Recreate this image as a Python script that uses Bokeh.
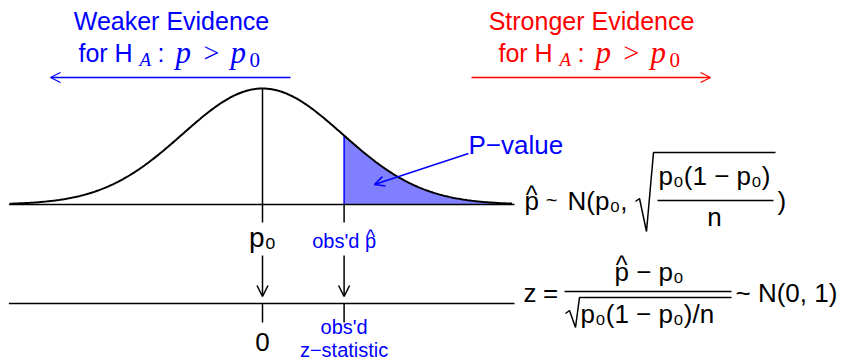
import numpy as np
from bokeh.plotting import figure
from bokeh.models import Range1d, Label, Arrow, OpenHead
from bokeh.embed import file_html
from bokeh.resources import INLINE

# ---------------- data ----------------
z_null = 0.0                 # position of p0 (and 0 on the z line)
z_obs = 1.02                 # observed statistic
z_span = [-3.16, 3.12]       # drawn extent of the sampling distribution
line_span = [-3.17, 3.15]    # extent of the two horizontal lines
weak_title = "Weaker Evidence"
strong_title = "Stronger Evidence"
pvalue_text = "P\u2212value"
obs_label = "obs'd"
zstat_label = "z\u2212statistic"

# ---------------- geometry helpers (page px -> data) ----------------
W, H = 851, 362
PXX = 80.0
PXY = 116.0 * np.sqrt(2 * np.pi)
TEXT_DY = 9   # label baseline correction


def X(px):
    return (px - 262) / PXX


def Y(py):
    return (204 - py) / PXY


def pdf(z):
    z = np.asarray(z, dtype=float)
    return np.exp(-z ** 2 / 2) / np.sqrt(2 * np.pi)


p = figure(width=W, height=H, x_range=Range1d(X(0), X(W)),
           y_range=Range1d(Y(H), Y(0)), output_backend="svg",
           toolbar_location=None, x_axis_type=None, y_axis_type=None,
           min_border=0)
p.outline_line_color = None
p.background_fill_color = "white"

SANS = "Liberation Sans"
SERIF = "Liberation Serif"
BLUE = "#0000ff"
RED = "#ff0000"


def lab(px, py, text, size=24, color="black", font=SANS, style="normal",
        align="left", xdata=None):
    x = X(px) if xdata is None else xdata
    p.add_layout(Label(x=x, y=Y(py - TEXT_DY), text=text,
                       text_font_size=f"{size}px",
                       text_color=color, text_font=font, text_font_style=style,
                       text_align=align, text_baseline="alphabetic"))


# ---------------- shaded tail ----------------
zs = np.linspace(z_obs, z_span[1], 200)
p.patch(np.concatenate([[z_obs], zs, [z_span[1]]]),
        np.concatenate([[0], pdf(zs), [0]]),
        fill_color=BLUE, fill_alpha=0.5, line_color=None)
p.segment(x0=[z_obs], y0=[0], x1=[z_obs], y1=[float(pdf(z_obs))],
          line_color=BLUE, line_width=1.5)

# ---------------- curve & lines ----------------
zc = np.linspace(z_span[0], z_span[1], 400)
p.line(zc, pdf(zc), line_color="black", line_width=2)
p.segment(x0=[line_span[0], line_span[0]], y0=[0, Y(303)],
          x1=[line_span[1], line_span[1]], y1=[0, Y(303)],
          line_color="black", line_width=1.6)
# verticals / ticks
p.segment(x0=[z_null, z_obs, z_null, z_obs],
          y0=[float(pdf(z_null)), 0, Y(303), Y(303)],
          x1=[z_null, z_obs, z_null, z_obs],
          y1=[Y(222), Y(222), Y(322), Y(322)],
          line_color="black", line_width=1.5)

# down arrows between the two lines
for zz in (z_null, z_obs):
    p.add_layout(Arrow(x_start=zz, y_start=Y(255), x_end=zz, y_end=Y(296),
                       line_width=1.5, line_color="black",
                       end=OpenHead(size=11, line_width=1.5, line_color="black")))

# ---------------- top annotations ----------------
p.add_layout(Arrow(x_start=X(290), y_start=Y(77), x_end=X(50), y_end=Y(77),
                   line_width=1.3, line_color=BLUE,
                   end=OpenHead(size=10, line_width=1.3, line_color=BLUE)))
p.add_layout(Arrow(x_start=X(471), y_start=Y(77), x_end=X(710), y_end=Y(77),
                   line_width=1.3, line_color=RED,
                   end=OpenHead(size=10, line_width=1.3, line_color=RED)))

for dx, col, title in [(0, BLUE, weak_title), (420, RED, strong_title)]:
    lab(171 + dx, 29, title, 25, col, align="center")
    lab(78 + dx, 61, "for H", 25, col)
    lab(139 + dx, 68, "A", 19, col, font=SERIF, style="italic")
    lab(157 + dx, 61, ":", 25, col)
    lab(175 + dx, 61, "p", 31, col, font=SERIF, style="italic")
    lab(203 + dx, 61, ">", 28, col, font=SERIF)
    lab(230 + dx, 61, "p", 31, col, font=SERIF, style="italic")
    lab(249 + dx, 68, "0", 21, col, font=SERIF)

# P-value pointer
lab(468, 153, pvalue_text, 26, BLUE)
p.add_layout(Arrow(x_start=X(468), y_start=Y(153), x_end=X(374), y_end=Y(184),
                   line_width=1.5, line_color=BLUE,
                   end=OpenHead(size=10, line_width=1.5, line_color=BLUE)))

# ---------------- tick labels ----------------
lab(0, 246, "p\u2080", 28, "black", align="center", xdata=z_null)
lab(0, 249, obs_label + " p", 20, BLUE, align="center", xdata=z_obs)
lab(370, 245, "^", 20, BLUE, align="center")
lab(0, 350, "0", 26, "black", align="center", xdata=z_null)
lab(0, 335, obs_label, 20, BLUE, align="center", xdata=z_obs)
lab(0, 358, zstat_label, 20, BLUE, align="center", xdata=z_obs)

# ---------------- formula 1 ----------------
lab(524, 209, "p", 26)
lab(531, 203, "^", 25, align="center")
lab(551, 208, "~", 20, align="center")
lab(567, 209, "N(p\u2080,", 26)
rad1_x = [635, 639, 646, 653, 775]
rad1_y = [201, 198, 231, 152, 152]
p.line([X(v) for v in rad1_x], [Y(v) for v in rad1_y], line_color="black",
       line_width=1.5)
lab(714, 184, "p\u2080(1 \u2212 p\u2080)", 26, align="center")
p.segment(x0=[X(657)], y0=[Y(200)], x1=[X(773)], y1=[Y(200)],
          line_color="black", line_width=1.5)
lab(714, 225, "n", 26, align="center")
lab(777, 209, ")", 26)

# ---------------- formula 2 ----------------
lab(523, 301, "z", 26)
lab(550, 301, "=", 26, align="center")
p.segment(x0=[X(564)], y0=[Y(291)], x1=[X(731)], y1=[Y(291)],
          line_color="black", line_width=1.5)
lab(621, 273, "^", 25, align="center")
lab(614, 280, "p \u2212 p\u2080", 26)
rad2_x = [565, 569, 575, 579, 731]
rad2_y = [313, 310, 327, 297, 297]
p.line([X(v) for v in rad2_x], [Y(v) for v in rad2_y], line_color="black",
       line_width=1.5)
lab(580, 322, "p\u2080(1 \u2212 p\u2080)/n", 26)
lab(735, 301, "~ N(0, 1)", 26)

open("out.html", "w").write(file_html(p, INLINE))
